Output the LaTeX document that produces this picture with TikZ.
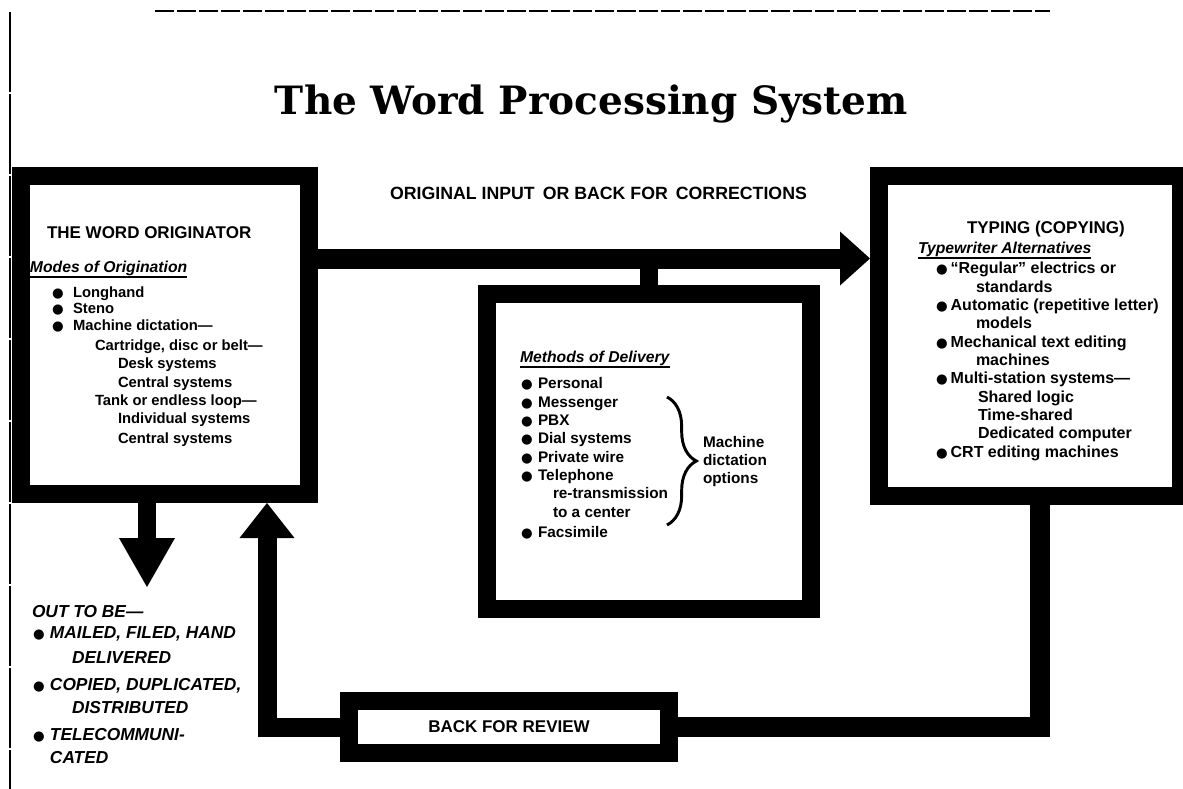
\documentclass[tikz,border=0pt]{standalone}
\usepackage{fontspec}
\usepackage{graphicx}
\setmainfont{Liberation Sans}
\newfontfamily\titlef{DejaVu Serif}
\newfontfamily\symf{DejaVu Sans}
\usetikzlibrary{arrows.meta,decorations.pathreplacing}
\newcommand\bul[1]{\makebox[#1][l]{{\symf\fontsize{10}{10}\selectfont ●}}}
\begin{document}
\begin{tikzpicture}[x=0.75pt,y=-0.75pt,
  boxw/.style={draw=black,line width=13.5pt,inner sep=0pt,outer sep=6.75pt,rectangle},
  txt/.style={anchor=base west,inner sep=0pt,outer sep=0pt},
  hd/.style={txt,font=\bfseries\fontsize{12.75}{15}\selectfont},
  sub/.style={txt,font=\bfseries\itshape\fontsize{11.8}{14}\selectfont},
  lb/.style={txt,font=\bfseries\fontsize{11.1}{13}\selectfont},
  rb/.style={txt,font=\bfseries\fontsize{12}{14}\selectfont},
  mb/.style={txt,font=\bfseries\fontsize{11.5}{14}\selectfont},
  ob/.style={txt,font=\bfseries\itshape\fontsize{13}{15}\selectfont},
  ulin/.style={line width=1.5pt},
  flow/.style={draw=black,line width=15pt},
]
\useasboundingbox (0,0) rectangle (1183,789);
\fill[white] (0,0) rectangle (1183,789);
\clip (0,0) rectangle (1183,789);

% page edge rules
\draw[line width=1.6pt,dash pattern=on 14pt off 2.5pt] (155,11) -- (1050,11);
\draw[line width=2pt,dash pattern=on 60pt off 1.5pt] (10,12) -- (10,789);

% title
\node[anchor=base,inner sep=0pt] (title) at (591.5,114)
  {\resizebox{474.75pt}{!}{\titlef\bfseries The Word Processing System}};

% boxes
\node[boxw,minimum width=216pt,minimum height=238.5pt] (orig) at (165,335) {};
\node[boxw,minimum width=226.5pt,minimum height=240pt] (typing) at (1030,336) {};
\node[boxw,minimum width=243pt,minimum height=236.25pt] (mid) at (649,451.5) {};
\node[boxw,minimum width=240pt,minimum height=39pt,
      font=\bfseries\fontsize{12.75}{15}\selectfont] (review) at (509,727) {BACK FOR REVIEW};

% helper coordinates
\coordinate (tb) at (0,258.5);
\coordinate (otip) at (147,587);
\coordinate (upc) at (267,727);
\coordinate (rc) at (1040,727);

% connectors
\draw[flow,-{Triangle[width=40.5pt,length=22.5pt,line width=0pt]}]
  (orig.east |- tb) -- (typing.west |- tb);
\draw[flow,line width=13.5pt] (mid.north) -- (mid.north |- tb);
\draw[flow,line width=13.5pt,-{Triangle[width=42pt,length=36.75pt,line width=0pt]}]
  (orig.south -| otip) -- (otip);
\draw[flow,line width=14.25pt,-{Triangle[width=41.25pt,length=26.25pt,line width=0pt]}]
  (review.west) -- (upc) -- (orig.south -| upc);
\draw[flow] (review.east) -- (rc) -- (typing.south -| rc);

% top label
\node[txt,font=\bfseries\fontsize{13.3}{15}\selectfont] (toplab) at (390,199)
  {ORIGINAL INPUT\hspace{0.45em}OR BACK FOR\hspace{0.45em}CORRECTIONS};

% left box text
\node[hd] (origh) at (47,238) {THE WORD ORIGINATOR};
\node[sub] (modes) at (30,272) {Modes of Origination};
\draw[ulin] ([yshift=-4pt]modes.base west) -- ([yshift=-4pt]modes.base east);
\node[lb] (l1) at (52,297) {\bul{15.75pt}Longhand};
\node[lb] (l2) at (52,313) {\bul{15.75pt}Steno};
\node[lb] (l3) at (52,330) {\bul{15.75pt}Machine dictation—};
\node[lb] (l4) at (95,350) {Cartridge, disc or belt—};
\node[lb] (l5) at (118,368) {Desk systems};
\node[lb] (l6) at (118,387) {Central systems};
\node[lb] (l7) at (95,405) {Tank or endless loop—};
\node[lb] (l8) at (118,423) {Individual systems};
\node[lb] (l9) at (118,443) {Central systems};

% right box text
\node[hd] (typh) at (967,233) {TYPING (COPYING)};
\node[sub] (typs) at (918,253) {Typewriter Alternatives};
\draw[ulin] ([yshift=-4pt]typs.base west) -- ([yshift=-4pt]typs.base east);
\node[rb] (r1) at (936,273) {\bul{11pt}“Regular” electrics or};
\node[rb] (r2) at (976,292) {standards};
\node[rb] (r3) at (936,310) {\bul{11pt}Automatic (repetitive letter)};
\node[rb] (r4) at (976,328) {models};
\node[rb] (r5) at (936,347) {\bul{11pt}Mechanical text editing};
\node[rb] (r6) at (976,365) {machines};
\node[rb] (r7) at (936,383) {\bul{11pt}Multi-station systems—};
\node[rb] (r8) at (978,402) {Shared logic};
\node[rb] (r9) at (978,420) {Time-shared};
\node[rb] (r10) at (978,438) {Dedicated computer};
\node[rb] (r11) at (936,457) {\bul{11pt}CRT editing machines};

% middle box text
\node[sub] (meth) at (520,362) {Methods of Delivery};
\draw[ulin] ([yshift=-4pt]meth.base west) -- ([yshift=-4pt]meth.base east);
\node[mb] (m1) at (521,388) {\bul{12.75pt}Personal};
\node[mb] (m2) at (521,407) {\bul{12.75pt}Messenger};
\node[mb] (m3) at (521,425) {\bul{12.75pt}PBX};
\node[mb] (m4) at (521,443) {\bul{12.75pt}Dial systems};
\node[mb] (m5) at (521,462) {\bul{12.75pt}Private wire};
\node[mb] (m6) at (521,480) {\bul{12.75pt}Telephone};
\node[mb] (m7) at (553,498) {re-transmission};
\node[mb] (m8) at (553,517) {to a center};
\node[mb] (m9) at (521,537) {\bul{12.75pt}Facsimile};
\coordinate (bt) at (667,397);
\coordinate (bb) at (667,525);
\draw[line width=2.2pt,decorate,decoration={brace,amplitude=22pt}] (bt) -- (bb);
\node[mb] (mc1) at (703,447) {Machine};
\node[mb] (mc2) at (703,465) {dictation};
\node[mb] (mc3) at (703,483) {options};

% out to be
\node[ob] (o0) at (32,617) {OUT TO BE—};
\node[ob] (o1) at (33,638) {\bul{12.75pt}MAILED, FILED, HAND};
\node[ob] (o2) at (72,663) {DELIVERED};
\node[ob] (o3) at (33,690) {\bul{12.75pt}COPIED, DUPLICATED,};
\node[ob] (o4) at (72,713) {DISTRIBUTED};
\node[ob] (o5) at (33,740) {\bul{12.75pt}TELECOMMUNI-};
\node[ob] (o6) at (50,763) {CATED};
\end{tikzpicture}
\end{document}
